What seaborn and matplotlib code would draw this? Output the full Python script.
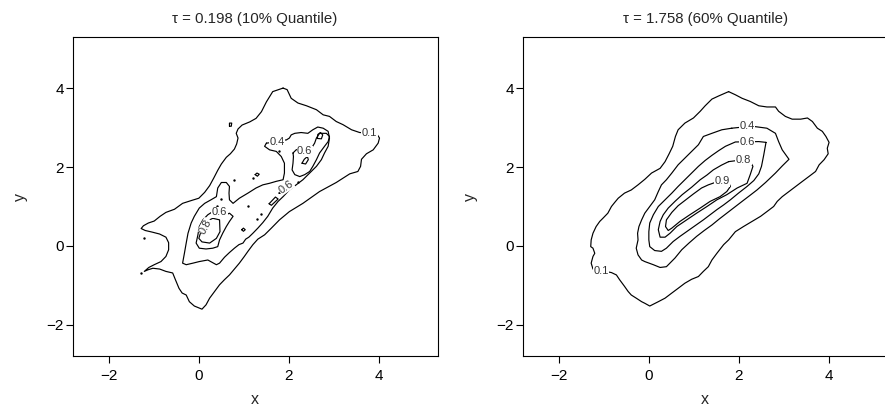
import matplotlib
matplotlib.use("Agg")
import matplotlib.pyplot as plt
import pandas as pd
import seaborn as sns

# ---------------- data ----------------
titles = ["\u03c4 = 0.198 (10% Quantile)", "\u03c4 = 1.758 (60% Quantile)"]
axis_ticks = [-2, 0, 2, 4]
axis_limits = (-2.8, 5.3)

# ---- left panel (tau = 0.198) contour lines ----
left_01 = [(1.87, 4.01), (1.96, 3.97), (2.05, 3.75), (2.20, 3.63), (2.39, 3.56), (2.61, 3.46),
           (2.76, 3.33), (2.90, 3.29), (3.05, 3.16), (3.20, 3.08), (3.39, 2.95), (3.57, 2.88),
           (3.94, 2.86), (4.01, 2.74), (3.98, 2.61), (3.87, 2.44), (3.72, 2.34), (3.61, 2.20),
           (3.59, 2.02), (3.53, 1.89), (3.35, 1.83), (3.05, 1.61), (2.68, 1.38), (2.31, 1.08),
           (2.01, 0.87), (1.79, 0.66), (1.61, 0.45), (1.46, 0.28), (1.31, 0.17), (1.20, 0.03),
           (1.09, -0.14), (1.01, -0.27), (0.90, -0.44), (0.79, -0.59), (0.68, -0.74), (0.57, -0.86),
           (0.46, -0.99), (0.35, -1.16), (0.24, -1.33), (0.16, -1.50), (0.07, -1.61), (-0.10, -1.53),
           (-0.21, -1.42), (-0.28, -1.25), (-0.37, -1.20), (-0.44, -1.08), (-0.52, -0.86), (-0.58, -0.69),
           (-0.73, -0.65), (-0.87, -0.59), (-1.02, -0.57), (-1.13, -0.61), (-1.21, -0.65),
           (-1.11, -0.55), (-0.99, -0.48), (-0.84, -0.40), (-0.73, -0.27), (-0.67, -0.10), (-0.67, 0.08),
           (-0.73, 0.22), (-0.87, 0.30), (-1.04, 0.35), (-1.19, 0.39), (-1.28, 0.44), (-1.23, 0.51),
           (-1.12, 0.58), (-0.99, 0.63), (-0.86, 0.75), (-0.73, 0.85), (-0.54, 0.93), (-0.36, 1.08),
           (-0.17, 1.15), (0.00, 1.21), (0.13, 1.36), (0.24, 1.53), (0.33, 1.72), (0.42, 1.92),
           (0.50, 2.08), (0.61, 2.25), (0.70, 2.34), (0.79, 2.46), (0.84, 2.59), (0.87, 2.74),
           (0.83, 2.86), (0.87, 2.97), (0.96, 3.07), (1.13, 3.15), (1.27, 3.24), (1.39, 3.41),
           (1.50, 3.66), (1.64, 3.92)]
left_04 = [(1.50, 2.61), (1.46, 2.53), (1.57, 2.44), (1.72, 2.40), (1.83, 2.27), (1.90, 2.10),
           (1.90, 1.85), (1.87, 1.68), (1.72, 1.64), (1.57, 1.59), (1.42, 1.55), (1.27, 1.47),
           (1.09, 1.34), (0.90, 1.21), (0.76, 1.08), (0.68, 1.17), (0.67, 1.34), (0.68, 1.51),
           (0.61, 1.61), (0.50, 1.61), (0.42, 1.47), (0.39, 1.25), (0.27, 1.17), (0.13, 1.08),
           (0.01, 0.96), (-0.10, 0.75), (-0.17, 0.58), (-0.24, 0.32), (-0.28, 0.07), (-0.32, -0.19),
           (-0.36, -0.44), (-0.28, -0.48), (-0.13, -0.44), (0.01, -0.40), (0.20, -0.36), (0.39, -0.48),
           (0.46, -0.44), (0.57, -0.29), (0.68, -0.17), (0.79, -0.06), (0.89, 0.03), (0.98, 0.07),
           (1.04, 0.17), (1.11, 0.22), (1.20, 0.32), (1.31, 0.45), (1.42, 0.59), (1.53, 0.75),
           (1.64, 0.96), (1.76, 1.13), (1.87, 1.25), (2.01, 1.42), (2.16, 1.55), (2.31, 1.68),
           (2.46, 1.85), (2.61, 2.02), (2.72, 2.19), (2.79, 2.36), (2.87, 2.53), (2.90, 2.74),
           (2.87, 2.91), (2.76, 2.99), (2.64, 3.02), (2.53, 2.95), (2.42, 2.86), (2.27, 2.88),
           (2.13, 2.86), (2.05, 2.82), (2.01, 2.74), (1.94, 2.69), (1.87, 2.69), (1.79, 2.65),
           (1.64, 2.63)]
left_06_upper = [(2.09, 2.36), (2.16, 2.44), (2.27, 2.48), (2.50, 2.48), (2.57, 2.61), (2.61, 2.74),
                 (2.68, 2.86), (2.83, 2.86), (2.90, 2.78), (2.87, 2.65), (2.79, 2.53), (2.68, 2.36),
                 (2.61, 2.19), (2.53, 2.02), (2.46, 1.89), (2.35, 1.81), (2.24, 1.76), (2.13, 1.81),
                 (2.07, 1.93), (2.09, 2.10), (2.10, 2.27)]
left_06_middle = [(1.78, 1.34), (1.87, 1.49), (2.00, 1.61), (2.07, 1.57), (2.01, 1.44), (1.88, 1.32)]
left_06_lower = [(0.35, 0.90), (0.20, 0.79), (0.09, 0.66), (0.01, 0.49), (-0.02, 0.28), (-0.06, 0.07),
                 (0.01, -0.06), (0.16, -0.08), (0.31, -0.06), (0.42, -0.02), (0.46, 0.15), (0.53, 0.32),
                 (0.61, 0.49), (0.68, 0.62), (0.76, 0.75), (0.68, 0.83), (0.61, 0.79)]
left_08_lower = [(0.31, 0.70), (0.46, 0.66), (0.47, 0.36), (0.39, 0.19), (0.24, 0.07), (0.07, 0.10),
                 (0.00, 0.19), (0.03, 0.30), (0.10, 0.41), (0.16, 0.51), (0.24, 0.66)]
left_08_bar = [(1.56, 1.07), (1.70, 1.24), (1.76, 1.19), (1.61, 1.03)]
left_small_a = [(0.68, 3.04), (0.68, 3.12), (0.73, 3.12), (0.72, 3.04)]
left_small_b = [(1.25, 1.81), (1.29, 1.85), (1.34, 1.82), (1.30, 1.77)]
left_small_c = [(0.95, 0.41), (0.99, 0.45), (1.03, 0.41), (0.99, 0.37)]
left_small_d = [(2.63, 2.73), (2.64, 2.83), (2.70, 2.88), (2.75, 2.82), (2.72, 2.72)]
left_small_e = [(2.29, 2.10), (2.34, 2.20), (2.41, 2.27), (2.43, 2.19), (2.37, 2.08)]
left_dots_x = [-1.28, -1.21, 0.79, 1.20, 0.50, 0.40, 1.09, 1.39, 1.29, 2.20, 1.79]
left_dots_y = [-0.69, 0.19, 1.68, 1.72, 1.19, 1.00, 1.00, 0.81, 0.69, 1.61, 2.40]
left_label_text = ["0.1", "0.4", "0.6", "0.6", "0.6", "0.8"]
left_label_x = [3.79, 1.73, 2.35, 1.93, 0.46, 0.15]
left_label_y = [2.88, 2.65, 2.40, 1.50, 0.85, 0.49]
left_label_rot = [0, 0, 0, 35, 0, 62]

# ---- right panel (tau = 1.758) contour lines ----
right_01 = [(1.77, 3.92), (1.92, 3.84), (2.07, 3.75), (2.25, 3.67), (2.44, 3.56), (2.62, 3.53),
            (2.81, 3.53), (2.88, 3.42), (3.03, 3.29), (3.18, 3.22), (3.37, 3.22), (3.52, 3.25),
            (3.63, 3.16), (3.74, 2.99), (3.85, 2.91), (3.93, 2.78), (4.00, 2.63), (3.96, 2.48),
            (3.98, 2.34), (3.89, 2.19), (3.78, 2.06), (3.70, 1.89), (3.55, 1.76), (3.41, 1.64),
            (3.26, 1.51), (3.11, 1.38), (2.96, 1.25), (2.85, 1.13), (2.77, 1.00), (2.62, 0.87),
            (2.48, 0.75), (2.29, 0.62), (2.10, 0.49), (1.92, 0.36), (1.77, 0.15), (1.66, 0.03),
            (1.51, -0.19), (1.40, -0.36), (1.32, -0.53), (1.21, -0.65), (1.10, -0.78), (0.95, -0.85),
            (0.80, -0.95), (0.65, -1.08), (0.51, -1.20), (0.36, -1.33), (0.21, -1.42), (0.02, -1.53),
            (-0.09, -1.46), (-0.16, -1.42), (-0.28, -1.33), (-0.39, -1.25), (-0.46, -1.16),
            (-0.54, -1.03), (-0.65, -0.86), (-0.72, -0.74), (-0.83, -0.68), (-1.24, -0.59),
            (-1.28, -0.44), (-1.24, -0.27), (-1.20, -0.19), (-1.24, -0.06), (-1.29, -0.02),
            (-1.28, 0.15), (-1.24, 0.32), (-1.17, 0.49), (-1.09, 0.62), (-1.02, 0.70), (-0.91, 0.83),
            (-0.83, 1.00), (-0.76, 1.10), (-0.68, 1.21), (-0.54, 1.34), (-0.39, 1.42), (-0.24, 1.55),
            (-0.09, 1.69), (0.06, 1.85), (0.25, 1.97), (0.36, 2.14), (0.45, 2.34), (0.53, 2.53),
            (0.59, 2.78), (0.65, 2.95), (0.80, 3.12), (0.99, 3.25), (1.14, 3.42), (1.25, 3.56),
            (1.40, 3.73), (1.55, 3.81)]
right_04 = [(1.84, 2.99), (2.18, 3.03), (2.36, 3.03), (2.62, 2.99), (2.81, 2.86), (2.88, 2.65),
            (2.96, 2.44), (3.11, 2.20), (2.96, 2.03), (2.81, 1.85), (2.59, 1.61), (2.40, 1.42),
            (2.23, 1.27), (2.07, 1.13), (1.90, 0.98), (1.73, 0.83), (1.56, 0.68), (1.40, 0.53),
            (1.23, 0.39), (1.06, 0.24), (0.89, 0.07), (0.73, -0.10), (0.58, -0.31), (0.39, -0.53),
            (0.25, -0.55), (0.10, -0.48), (-0.09, -0.40), (-0.16, -0.36), (-0.24, -0.23),
            (-0.28, -0.06), (-0.24, 0.15), (-0.25, 0.32), (-0.22, 0.49), (-0.16, 0.66), (-0.09, 0.83),
            (0.02, 1.00), (0.13, 1.17), (0.21, 1.38), (0.28, 1.55), (0.39, 1.68), (0.51, 1.85),
            (0.65, 2.06), (0.80, 2.23), (0.95, 2.40), (1.10, 2.57), (1.21, 2.78), (1.40, 2.86),
            (1.62, 2.95)]
right_06 = [(2.60, 2.63), (2.55, 2.31), (2.50, 2.02), (2.44, 1.83), (2.33, 1.66), (2.18, 1.51),
            (1.99, 1.34), (1.81, 1.17), (1.66, 1.04), (1.51, 0.92), (1.36, 0.79), (1.21, 0.66),
            (0.95, 0.45), (0.69, 0.24), (0.54, 0.11), (0.39, -0.06), (0.28, -0.14), (0.13, -0.12),
            (0.02, -0.02), (0.00, 0.15), (0.00, 0.36), (0.02, 0.58), (0.10, 0.79), (0.21, 1.00),
            (0.36, 1.17), (0.51, 1.34), (0.65, 1.51), (0.80, 1.68), (0.95, 1.85), (1.10, 2.02),
            (1.25, 2.17), (1.40, 2.30), (1.55, 2.42), (1.70, 2.53), (1.92, 2.64), (2.44, 2.65)]
right_08 = [(1.77, 2.14), (2.10, 2.19), (2.25, 2.14), (2.31, 2.02), (2.25, 1.81), (2.18, 1.59),
            (1.96, 1.47), (1.73, 1.30), (1.51, 1.17), (1.29, 1.00), (1.06, 0.83), (0.84, 0.66),
            (0.62, 0.49), (0.47, 0.32), (0.36, 0.22), (0.25, 0.22), (0.21, 0.41), (0.25, 0.62),
            (0.32, 0.79), (0.43, 0.96), (0.58, 1.13), (0.74, 1.30), (0.95, 1.49), (1.14, 1.68),
            (1.29, 1.80), (1.43, 1.93), (1.61, 2.05)]
right_09 = [(1.62, 1.64), (1.77, 1.61), (1.81, 1.51), (1.73, 1.38), (1.58, 1.25), (1.36, 1.13),
            (1.14, 0.96), (0.91, 0.79), (0.69, 0.62), (0.51, 0.45), (0.43, 0.39), (0.37, 0.49),
            (0.39, 0.66), (0.51, 0.85), (0.65, 1.02), (0.82, 1.17), (0.99, 1.32), (1.17, 1.47),
            (1.32, 1.55), (1.47, 1.61)]
right_label_text = ["0.1", "0.4", "0.6", "0.8", "0.9"]
right_label_x = [-1.06, 2.18, 2.18, 2.10, 1.62]
right_label_y = [-0.65, 3.04, 2.65, 2.19, 1.64]
right_label_rot = [0, 0, 0, 0, 0]

left_pieces = [left_01, left_04, left_06_upper, left_06_middle, left_06_lower, left_08_lower,
               left_08_bar, left_small_a, left_small_b, left_small_c, left_small_d, left_small_e]
right_pieces = [right_01, right_04, right_06, right_08, right_09]


def to_frame(pieces):
    rows = []
    for pid, pts in enumerate(pieces):
        closed = list(pts) + [pts[0]]
        for order, (x, y) in enumerate(closed):
            rows.append({"piece": pid, "order": order, "x": x, "y": y})
    return pd.DataFrame(rows)


# ---------------- drawing ----------------
sns.set_theme(style="ticks")
plt.rcParams["font.family"] = ["Liberation Sans", "DejaVu Sans"]
plt.rcParams["axes.unicode_minus"] = True

fig = plt.figure(figsize=(8.85, 4.08), dpi=100)
ax_l = fig.add_axes([0.0821, 0.1275, 0.4124, 0.781])
ax_r = fig.add_axes([0.5906, 0.1275, 0.4124, 0.781])

panels = [
    (ax_l, left_pieces, left_label_text, left_label_x, left_label_y, left_label_rot, True),
    (ax_r, right_pieces, right_label_text, right_label_x, right_label_y, right_label_rot, False),
]

for i, (ax, pieces, ltxt, lx, ly, lrot, has_dots) in enumerate(panels):
    df = to_frame(pieces)
    sns.lineplot(data=df, x="x", y="y", units="piece", estimator=None, sort=False,
                 color="black", linewidth=0.85, ax=ax, legend=False)
    if has_dots:
        sns.scatterplot(x=left_dots_x, y=left_dots_y, color="black", s=3, linewidth=0,
                        ax=ax, legend=False)
    for t, x, y, r in zip(ltxt, lx, ly, lrot):
        ax.text(x, y, t, ha="center", va="center", fontsize=8, color="#333333", rotation=r,
                bbox=dict(facecolor="white", edgecolor="none", pad=0.3), zorder=5)
    ax.set_xlim(*axis_limits)
    ax.set_ylim(*axis_limits)
    ax.set_xticks(axis_ticks)
    ax.set_yticks(axis_ticks)
    ax.set_xlabel("x", fontsize=11.5, labelpad=6)
    ax.set_ylabel("y", fontsize=11.5, labelpad=13)
    ax.set_title(titles[i], fontsize=10.8, pad=10)
    ax.tick_params(axis="both", direction="out", length=5, width=0.8, labelsize=11,
                   color="black", labelcolor="black")
    ax.tick_params(axis="x", pad=4.5)
    ax.tick_params(axis="y", pad=1.5)
    for sp in ax.spines.values():
        sp.set_visible(True)
        sp.set_color("black")
        sp.set_linewidth(0.8)

fig.savefig("out.png", dpi=100, facecolor="white")
